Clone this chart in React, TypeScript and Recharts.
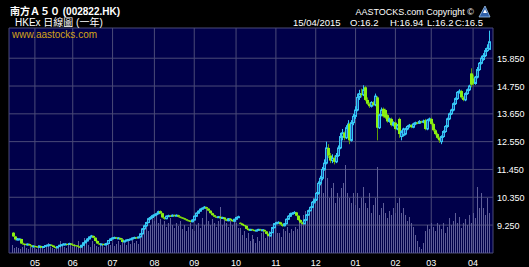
import React from 'react';
import { ComposedChart, Bar, XAxis, YAxis, CartesianGrid } from 'recharts';

// Daily OHLC (one year, 15/04/2014 - 15/04/2015)
const opens = [
  8.95, 8.80, 8.66, 8.68, 8.70, 8.52, 8.50, 8.46, 8.50, 8.45, 8.39,
  8.42, 8.40, 8.37, 8.42, 8.36, 8.40, 8.44, 8.46, 8.47, 8.44, 8.38, 8.35, 8.40, 8.45, 8.47, 8.49, 8.50, 8.48, 8.52, 8.47,
  8.45, 8.44, 8.40, 8.38, 8.45, 8.55, 8.62, 8.70, 8.78, 8.82, 8.75, 8.62, 8.52, 8.48, 8.50, 8.47, 8.50, 8.52, 8.64, 8.70,
  8.74, 8.76, 8.72, 8.74, 8.68, 8.58, 8.62, 8.66, 8.68, 8.70, 8.74, 8.76, 8.74, 8.78, 8.90, 9.10, 9.22, 9.35, 9.50, 9.55, 9.62,
  9.66, 9.70, 9.80, 9.72, 9.55, 9.50, 9.60, 9.62, 9.60, 9.64, 9.62, 9.64, 9.58, 9.55, 9.52, 9.48, 9.44, 9.42, 9.38, 9.45, 9.60,
  9.72, 9.80, 9.88, 9.92, 9.96, 9.90, 9.82, 9.72, 9.64, 9.58, 9.55, 9.58, 9.52, 9.55, 9.48, 9.42, 9.50, 9.45, 9.40, 9.48, 9.55,
  9.34, 9.30, 9.25, 9.22, 9.10, 9.05, 9.08, 9.05, 9.02, 9.05, 9.08, 9.05, 9.06, 9.00, 8.90, 8.82, 8.95, 9.15, 9.30, 9.35,
  9.36, 9.28, 9.22, 9.30, 9.48, 9.60, 9.70, 9.72, 9.75, 9.62, 9.45, 9.35, 9.30, 9.45, 9.65, 9.82, 9.95, 10.15, 10.25,
  10.50, 10.90, 11.10, 11.45, 11.70, 12.30, 12.00, 11.80, 11.90, 11.75, 12.00, 12.30, 12.75, 12.90, 12.70, 13.10, 13.25, 12.60, 13.30, 13.55,
  13.80, 14.30, 14.45, 14.40, 14.70, 14.20, 14.05, 13.95, 14.10, 14.00, 14.30, 13.10, 13.60, 13.85, 13.80, 13.60, 13.35, 13.45, 13.20, 13.30, 13.05,
  13.45, 12.75, 12.80, 12.85, 13.05, 13.15, 13.20, 13.12, 13.25, 13.30, 13.28, 13.35, 13.32, 13.40, 13.05, 13.40, 13.45,
  13.25, 13.00, 12.85, 12.70, 12.55, 12.75, 12.95, 13.15, 13.45, 13.65, 13.80, 14.05, 14.25, 14.50, 14.55, 14.30, 14.20, 14.45, 14.60, 15.25, 15.05,
  14.85, 15.10, 15.40, 15.65, 15.80, 15.95, 16.15, 16.20,
];
const highs = [
  8.97, 8.82, 8.74, 8.72, 8.71, 8.55, 8.52, 8.52, 8.52, 8.47, 8.45,
  8.44, 8.42, 8.44, 8.43, 8.42, 8.46, 8.48, 8.50, 8.49, 8.45, 8.40, 8.42, 8.47, 8.50, 8.53, 8.53, 8.52, 8.55, 8.53, 8.49,
  8.47, 8.46, 8.42, 8.47, 8.57, 8.64, 8.73, 8.80, 8.86, 8.84, 8.77, 8.64, 8.54, 8.52, 8.52, 8.52, 8.55, 8.66, 8.73, 8.77,
  8.79, 8.78, 8.77, 8.75, 8.70, 8.64, 8.68, 8.70, 8.72, 8.76, 8.79, 8.78, 8.80, 8.93, 9.13, 9.26, 9.38, 9.54, 9.60, 9.66, 9.70,
  9.74, 9.82, 9.83, 9.74, 9.57, 9.63, 9.66, 9.65, 9.67, 9.67, 9.67, 9.66, 9.60, 9.57, 9.54, 9.50, 9.46, 9.44, 9.48, 9.63, 9.75,
  9.83, 9.91, 9.95, 10.00, 9.98, 9.92, 9.84, 9.74, 9.66, 9.60, 9.61, 9.60, 9.58, 9.57, 9.50, 9.53, 9.52, 9.47, 9.50, 9.58, 9.62,
  9.36, 9.33, 9.27, 9.24, 9.12, 9.10, 9.10, 9.07, 9.07, 9.10, 9.10, 9.08, 9.08, 9.02, 8.92, 8.98, 9.18, 9.33, 9.38, 9.40,
  9.38, 9.31, 9.33, 9.51, 9.64, 9.74, 9.76, 9.80, 9.77, 9.64, 9.48, 9.38, 9.48, 9.68, 9.86, 9.99, 10.20, 10.30, 10.56,
  10.98, 11.20, 11.55, 11.85, 12.55, 12.45, 12.10, 12.05, 12.00, 12.10, 12.40, 12.90, 13.05, 12.95, 13.20, 13.40, 13.30, 13.40, 13.65, 13.95,
  14.45, 14.60, 14.65, 14.78, 14.75, 14.30, 14.10, 14.15, 14.15, 14.45, 14.35, 13.65, 13.90, 13.90, 13.85, 13.65, 13.50, 13.50, 13.35, 13.35, 13.25,
  13.50, 13.00, 13.10, 13.10, 13.20, 13.25, 13.24, 13.30, 13.34, 13.34, 13.40, 13.38, 13.42, 13.45, 13.45, 13.50, 13.50,
  13.30, 13.05, 12.90, 12.75, 12.80, 13.00, 13.20, 13.50, 13.70, 13.85, 14.10, 14.30, 14.55, 14.62, 14.60, 14.35, 14.50, 14.65, 14.80, 15.45, 15.20,
  15.15, 15.50, 15.70, 15.95, 16.05, 16.25, 16.40, 16.94,
];
const lows = [
  8.78, 8.64, 8.64, 8.66, 8.50, 8.47, 8.45, 8.44, 8.43, 8.37, 8.37,
  8.37, 8.36, 8.35, 8.34, 8.34, 8.38, 8.42, 8.44, 8.42, 8.36, 8.32, 8.33, 8.38, 8.43, 8.45, 8.47, 8.46, 8.46, 8.45, 8.43,
  8.42, 8.38, 8.35, 8.36, 8.43, 8.53, 8.60, 8.68, 8.76, 8.73, 8.60, 8.50, 8.46, 8.46, 8.45, 8.45, 8.48, 8.50, 8.62, 8.68,
  8.72, 8.70, 8.70, 8.66, 8.56, 8.56, 8.60, 8.64, 8.66, 8.68, 8.72, 8.72, 8.72, 8.76, 8.88, 9.06, 9.18, 9.32, 9.46, 9.52, 9.58,
  9.62, 9.67, 9.68, 9.52, 9.46, 9.48, 9.57, 9.57, 9.58, 9.59, 9.60, 9.55, 9.52, 9.49, 9.45, 9.41, 9.39, 9.35, 9.36, 9.43, 9.57,
  9.70, 9.78, 9.86, 9.90, 9.88, 9.80, 9.70, 9.62, 9.56, 9.53, 9.53, 9.50, 9.50, 9.46, 9.40, 9.40, 9.43, 9.38, 9.38, 9.46, 9.53,
  9.28, 9.22, 9.19, 9.08, 9.02, 9.03, 9.03, 9.00, 9.00, 9.03, 9.03, 9.03, 8.98, 8.88, 8.80, 8.80, 8.93, 9.12, 9.28, 9.32,
  9.25, 9.18, 9.20, 9.28, 9.45, 9.57, 9.67, 9.69, 9.60, 9.42, 9.32, 9.26, 9.28, 9.42, 9.62, 9.79, 9.92, 10.10, 10.20,
  10.45, 10.82, 11.02, 11.40, 11.65, 11.90, 11.70, 11.70, 11.65, 11.70, 11.95, 12.25, 12.60, 12.60, 12.65, 13.00, 12.45, 12.55, 13.20, 13.45,
  13.75, 14.20, 14.30, 14.35, 14.15, 14.00, 13.88, 13.90, 13.95, 13.95, 12.60, 13.05, 13.55, 13.50, 13.45, 13.30, 13.30, 13.15, 13.15, 13.00, 13.00,
  12.70, 12.60, 12.75, 12.80, 13.00, 13.10, 13.08, 13.08, 13.20, 13.24, 13.25, 13.28, 13.28, 13.00, 13.00, 13.35, 13.20,
  12.95, 12.80, 12.65, 12.50, 12.45, 12.70, 12.90, 13.10, 13.40, 13.60, 13.75, 14.00, 14.20, 14.45, 14.25, 14.15, 14.15, 14.40, 14.55, 14.70, 14.78,
  14.80, 15.05, 15.35, 15.60, 15.75, 15.90, 16.10, 16.20,
];
const closes = [
  8.80, 8.68, 8.70, 8.70, 8.52, 8.50, 8.48, 8.50, 8.45, 8.40, 8.42,
  8.40, 8.38, 8.42, 8.36, 8.40, 8.44, 8.46, 8.47, 8.44, 8.38, 8.35, 8.40, 8.45, 8.47, 8.50, 8.50, 8.48, 8.52, 8.47, 8.45,
  8.44, 8.40, 8.38, 8.45, 8.55, 8.62, 8.70, 8.78, 8.82, 8.75, 8.62, 8.52, 8.48, 8.50, 8.47, 8.50, 8.52, 8.64, 8.70, 8.74,
  8.76, 8.72, 8.74, 8.68, 8.58, 8.62, 8.66, 8.68, 8.70, 8.74, 8.76, 8.74, 8.78, 8.90, 9.10, 9.22, 9.35, 9.50, 9.55, 9.62, 9.66,
  9.70, 9.78, 9.72, 9.55, 9.50, 9.60, 9.62, 9.60, 9.64, 9.62, 9.64, 9.58, 9.55, 9.52, 9.48, 9.44, 9.42, 9.38, 9.45, 9.60, 9.72,
  9.80, 9.88, 9.92, 9.96, 9.90, 9.82, 9.72, 9.64, 9.58, 9.55, 9.58, 9.52, 9.55, 9.48, 9.42, 9.50, 9.45, 9.40, 9.48, 9.55, 9.58,
  9.30, 9.25, 9.22, 9.10, 9.05, 9.08, 9.05, 9.02, 9.05, 9.08, 9.05, 9.06, 9.00, 8.90, 8.82, 8.95, 9.15, 9.30, 9.35, 9.36,
  9.28, 9.22, 9.30, 9.48, 9.60, 9.70, 9.72, 9.75, 9.62, 9.45, 9.35, 9.30, 9.45, 9.65, 9.82, 9.95, 10.15, 10.25, 10.50,
  10.90, 11.10, 11.45, 11.70, 12.30, 12.00, 11.80, 11.90, 11.75, 12.00, 12.30, 12.75, 12.90, 12.70, 13.10, 13.25, 12.60, 13.30, 13.55, 13.80,
  14.30, 14.45, 14.40, 14.60, 14.20, 14.05, 13.95, 14.10, 14.00, 14.35, 13.10, 13.60, 13.80, 13.55, 13.50, 13.35, 13.45, 13.20, 13.30, 13.05, 13.20,
  12.85, 12.95, 13.05, 13.05, 13.15, 13.20, 13.12, 13.25, 13.30, 13.28, 13.35, 13.32, 13.36, 13.05, 13.40, 13.45, 13.25,
  13.00, 12.85, 12.70, 12.60, 12.75, 12.95, 13.15, 13.45, 13.65, 13.80, 14.05, 14.25, 14.50, 14.55, 14.30, 14.20, 14.45, 14.60, 14.75, 14.80, 14.85,
  15.10, 15.40, 15.65, 15.85, 15.95, 16.15, 16.25, 16.50,
];
const volumes = [
  8, 5, 6, 5, 4, 6, 8, 5, 4, 6, 5,
  5, 4, 8, 6, 5, 4, 7, 10, 6, 5, 4, 6, 8, 12, 7, 6, 5, 8, 10, 6,
  9, 6, 12, 8, 7, 15, 10, 8, 6, 12, 9, 7, 6, 10, 8, 6, 9, 12, 8, 10,
  7, 9, 12, 8, 15, 10, 8, 12, 9, 14, 10, 12, 9, 16, 20, 25, 30, 22, 28, 35, 32,
  38, 30, 34, 28, 32, 26, 30, 35, 28, 25, 30, 27, 32, 24, 28, 22, 26, 30, 24, 22, 28,
  30, 25, 35, 28, 45, 32, 28, 34, 30, 26, 32, 46, 28, 34, 30, 26, 35, 28, 32, 30, 25,
  25, 18, 22, 15, 20, 12, 18, 14, 10, 16, 12, 20, 24, 15, 18, 22, 26, 30, 25, 20,
  20, 16, 24, 22, 26, 20, 24, 22, 26, 24, 34, 30, 38, 42, 36, 45, 48, 55, 60,
  70, 65, 80, 60, 85, 75, 55, 65, 70, 50, 60, 55, 65, 70, 88, 60, 55, 50, 60, 48,
  60, 45, 55, 66, 50, 45, 60, 40, 48, 55, 86, 38, 45, 50, 40, 35, 42, 38, 45, 40, 50,
  55, 40, 45, 38, 32, 36, 30, 26, 18, 12, 6, 4, 10, 22, 28, 24, 30,
  26, 22, 30, 28, 24, 30, 20, 26, 35, 28, 32, 40, 30, 36, 25, 30, 34, 28, 38, 30, 40,
  35, 66, 45, 60, 45, 38, 55, 40,
];

const monthTicks = [11, 30, 50, 71, 91, 112, 132, 152, 172, 192, 210, 231];
const monthLabels = ['05', '06', '07', '08', '09', '10', '11', '12', '01', '02', '03', '04'];
const priceTicks = [9.25, 10.35, 11.45, 12.55, 13.65, 14.75, 15.85];

const data = closes.map((c, i) => ({
  i,
  open: opens[i],
  high: highs[i],
  low: lows[i],
  close: c,
  range: [lows[i], highs[i]],
  vol: volumes[i],
}));

const FONT = "'Liberation Sans', Arial, 'Noto Sans CJK TC', sans-serif";
const UP_STROKE = '#36c8f4';
const UP_FILL = '#1b4fae';
const DOWN_FILL = '#8aee12';
const DOWN_WICK = '#5e9a08';

const Candle = (props: any) => {
  const { x, y, width, height, payload } = props;
  if (!payload || x == null) return null;
  const { open, close, high, low } = payload;
  const cx = Math.round(x + width / 2);
  const span = high - low;
  const py = (v: number) => (span === 0 ? y : y + ((high - v) / span) * height);
  const up = close >= open;
  const top = py(Math.max(open, close));
  const bot = py(Math.min(open, close));
  const bodyH = Math.max(1, bot - top);
  if (up) {
    return (
      <g>
        <line x1={cx + 0.5} x2={cx + 0.5} y1={y} y2={y + height} stroke={UP_STROKE} strokeWidth={1} />
        <rect x={cx - 0.5} y={top} width={2} height={bodyH} fill={UP_FILL} stroke={UP_STROKE} strokeWidth={1} />
      </g>
    );
  }
  return (
    <g>
      <line x1={cx + 0.5} x2={cx + 0.5} y1={y} y2={y + height} stroke={DOWN_WICK} strokeWidth={1} />
      <rect x={cx - 1} y={top} width={3} height={bodyH} fill={DOWN_FILL} />
    </g>
  );
};

const VolBar = (props: any) => {
  const { x, y, width, height } = props;
  if (x == null || !height) return null;
  const cx = Math.round(x + width / 2);
  return <rect x={cx} y={y} width={1} height={height} fill="#5e5e98" />;
};

const XTick = (props: any) => {
  const { x, y, payload } = props;
  const idx = monthTicks.indexOf(payload.value);
  return (
    <text x={x} y={y + 11} textAnchor="middle" fill="#ffffff" fontSize={9} fontFamily={FONT}>
      {monthLabels[idx]}
    </text>
  );
};

const YTick = (props: any) => {
  const { x, y, payload } = props;
  return (
    <text x={x + 2} y={y + 3.5} textAnchor="start" fill="#ffffff" fontSize={9} fontFamily={FONT}>
      {Number(payload.value).toFixed(3)}
    </text>
  );
};

export default function App() {
  return (
    <div style={{ position: 'absolute', left: 0, top: 0, width: 529, height: 267, background: '#000000', overflow: 'hidden' }}>
      <ComposedChart width={529} height={267} data={data} margin={{ top: 28, right: 0, bottom: 0, left: 9 }}>
        <CartesianGrid fill="#00004a" stroke="#4a4a78" strokeWidth={1} />
        <XAxis
          dataKey="i"
          type="number"
          domain={[-2, 241]}
          ticks={monthTicks}
          interval={0}
          axisLine={false}
          tickLine={false}
          tickSize={0}
          height={14}
          tick={<XTick />}
        />
        <XAxis xAxisId="v" dataKey="i" type="number" domain={[-2, 241]} hide />
        <YAxis
          orientation="right"
          type="number"
          domain={[8.145, 17.045]}
          ticks={priceTicks}
          interval={0}
          axisLine={false}
          tickLine={false}
          tickSize={0}
          width={36}
          allowDataOverflow
          tick={<YTick />}
        />
        <YAxis yAxisId="v" type="number" domain={[0, 225]} hide allowDataOverflow />
        <Bar xAxisId="v" yAxisId="v" dataKey="vol" barSize={1} shape={<VolBar />} isAnimationActive={false} />
        <Bar dataKey="range" barSize={3} shape={<Candle />} isAnimationActive={false} />
      </ComposedChart>
      <svg width={529} height={267} style={{ position: 'absolute', left: 0, top: 0, pointerEvents: 'none' }}>
        <text x={10} y={15} fill="#ffffff" fontSize={10} fontWeight="bold" fontFamily={FONT}>
          南方Ａ５０ (002822.HK)
        </text>
        <text x={15} y={26} fill="#ffffff" fontSize={10} fontFamily={FONT}>
          HKEx 日線圖 (一年)
        </text>
        <text x={12} y={38} fill="#d4a418" fontSize={10} fontFamily={FONT}>
          www.aastocks.com
        </text>
        <text x={474} y={15} textAnchor="end" fill="#ffffff" fontSize={9} fontFamily={FONT}>
          AASTOCKS.com Copyright ©
        </text>
        <text x={293} y={26} fill="#ffffff" fontSize={9.5} fontFamily={FONT}>15/04/2015</text>
        <text x={350} y={26} fill="#ffffff" fontSize={9.5} fontFamily={FONT}>O:16.2</text>
        <text x={390} y={26} fill="#ffffff" fontSize={9.5} fontFamily={FONT}>H:16.94</text>
        <text x={427} y={26} fill="#ffffff" fontSize={9.5} fontFamily={FONT}>L:16.2</text>
        <text x={455} y={26} fill="#ffffff" fontSize={9.5} fontFamily={FONT}>C:16.5</text>
        <g>
          <path d="M479 17 L485 6 L490 17 Z" fill="#2e5fa8" stroke="#9fc4ee" strokeWidth={0.8} />
          <path d="M483 13 L485 9 L487 13 Z" fill="#ffffff" />
        </g>
      </svg>
    </div>
  );
}
